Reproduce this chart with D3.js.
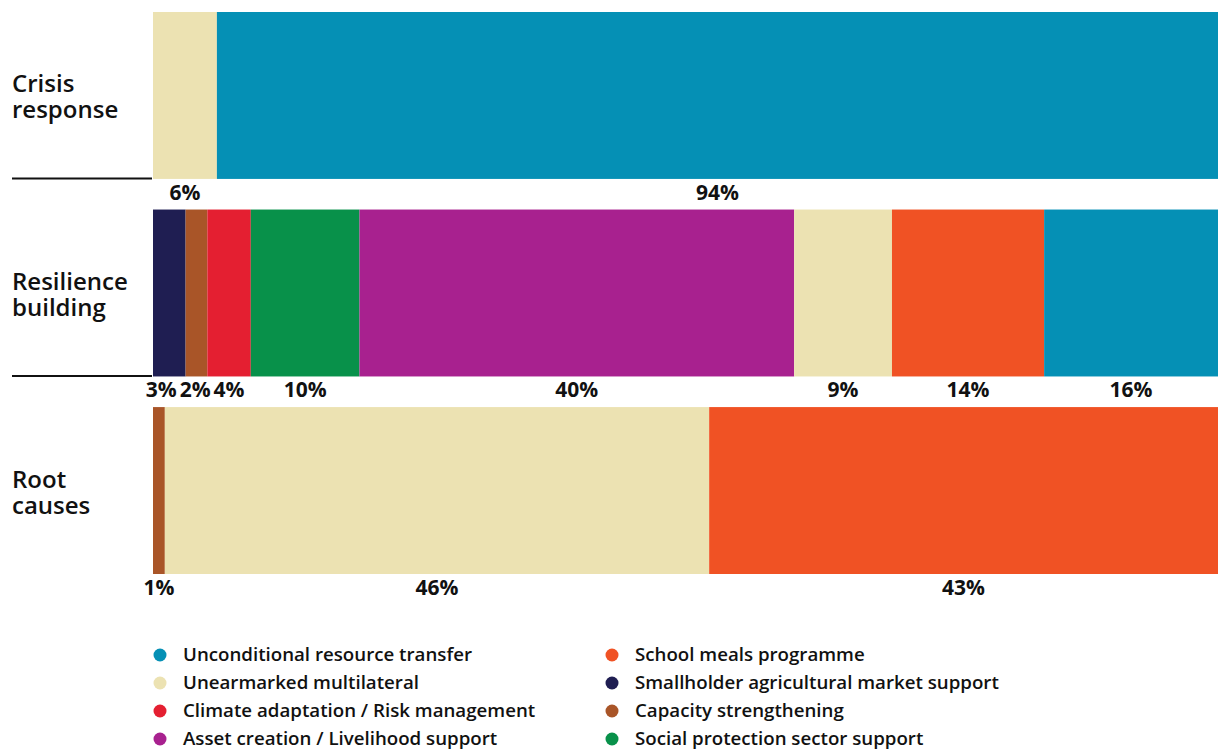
<!DOCTYPE html>
<html>
<head>
<meta charset="utf-8">
<script src="https://cdn.jsdelivr.net/npm/d3@7"></script>
<style>
  html, body { margin: 0; padding: 0; background: #fff; }
  svg { display: block; font-family: "Open Sans", "Noto Sans", sans-serif; }
</style>
</head>
<body>
<svg id="chart" width="1218" height="749"></svg>
<script>
// Programme categories and their colours
const categories = [
  "Unconditional resource transfer",
  "Unearmarked multilateral",
  "Climate adaptation / Risk management",
  "Asset creation / Livelihood support",
  "School meals programme",
  "Smallholder agricultural market support",
  "Capacity strengthening",
  "Social protection sector support"
];
const colors = ["#0590b5", "#ece2b2", "#e41f31", "#a8218f", "#f05224", "#1f1e52", "#a95528", "#08914a"];

// Rows (focus areas)
const rows = ["Crisis response", "Resilience building", "Root causes"];
const rowLabels = [["Crisis", "response"], ["Resilience", "building"], ["Root", "causes"]];

// Segment order and shares (%) per row
const crisisKeys = ["Unearmarked multilateral", "Unconditional resource transfer"];
const crisisValues = [6, 94];
const resilienceKeys = [
  "Smallholder agricultural market support",
  "Capacity strengthening",
  "Climate adaptation / Risk management",
  "Social protection sector support",
  "Asset creation / Livelihood support",
  "Unearmarked multilateral",
  "School meals programme",
  "Unconditional resource transfer"
];
const resilienceValues = [3, 2, 4, 10, 40, 9, 14, 16];
const rootKeys = ["Capacity strengthening", "Unearmarked multilateral", "School meals programme"];
const rootValues = [1, 46, 43];

const rowData = [
  { keys: crisisKeys, values: crisisValues },
  { keys: resilienceKeys, values: resilienceValues },
  { keys: rootKeys, values: rootValues }
];

const svg = d3.select("#chart");
const color = d3.scaleOrdinal().domain(categories).range(colors);

const y = d3.scaleBand().domain(rows).range([12, 574]).paddingInner(0.155);
const barLeft = 153, barRight = 1218;

rows.forEach((row, ri) => {
  const d = rowData[ri];
  const total = d3.sum(d.values);
  const x = d3.scaleLinear().domain([0, total]).range([barLeft, barRight]);
  const top = y(row), h = y.bandwidth();

  // cumulative stacking
  let acc = 0;
  const segs = d.values.map((v, i) => {
    const s = { key: d.keys[i], v, x0: acc, x1: acc + v };
    acc += v;
    return s;
  });

  const g = svg.append("g");
  g.selectAll("rect").data(segs).join("rect")
    .attr("x", s => x(s.x0))
    .attr("y", top)
    .attr("width", s => x(s.x1) - x(s.x0))
    .attr("height", h)
    .attr("fill", s => color(s.key));

  // value labels under each segment
  const labels = g.selectAll("text.val").data(segs).join("text")
    .attr("class", "val")
    .attr("x", s => (x(s.x0) + x(s.x1)) / 2)
    .attr("y", top + h + 21)
    .attr("text-anchor", "middle")
    .attr("font-size", 21)
    .attr("font-weight", 700)
    .attr("fill", "#111")
    .text(s => s.v + "%");

  // nudge crowded labels leftward so they don't overlap
  const nodes = labels.nodes();
  const cx = segs.map(s => (x(s.x0) + x(s.x1)) / 2);
  const w = nodes.map(n => n.getComputedTextLength());
  for (let i = nodes.length - 2; i >= 0; i--) {
    const leftNext = cx[i + 1] - w[i + 1] / 2;
    const right = cx[i] + w[i] / 2;
    if (right > leftNext - 3) cx[i] -= right - (leftNext - 3);
  }
  nodes.forEach((n, i) => d3.select(n).attr("x", cx[i]));

  // row title, one text per line
  const cy = top + h / 2;
  rowLabels[ri].forEach((line, li) => {
    svg.append("text")
      .attr("x", 12)
      .attr("y", cy - 3 + li * 26)
      .attr("font-size", 24)
      .attr("font-weight", 600)
      .attr("fill", "#111")
      .text(line);
  });

  // divider rule under the first two rows
  if (ri < rows.length - 1) {
    svg.append("line")
      .attr("x1", 12).attr("x2", 152)
      .attr("y1", top + h - 0.5).attr("y2", top + h - 0.5)
      .attr("stroke", "#111").attr("stroke-width", 2);
  }
});

// Legend: two columns of four
const legend = svg.append("g");
categories.forEach((c, i) => {
  const col = Math.floor(i / 4), r = i % 4;
  const lx = 160 + col * 452, ly = 655 + r * 28;
  legend.append("circle").attr("cx", lx).attr("cy", ly).attr("r", 6.5).attr("fill", color(c));
  legend.append("text")
    .attr("x", lx + 23).attr("y", ly + 5.5)
    .attr("font-size", 18.7)
    .attr("font-weight", 600)
    .attr("fill", "#111")
    .text(c);
});
</script>
</body>
</html>
